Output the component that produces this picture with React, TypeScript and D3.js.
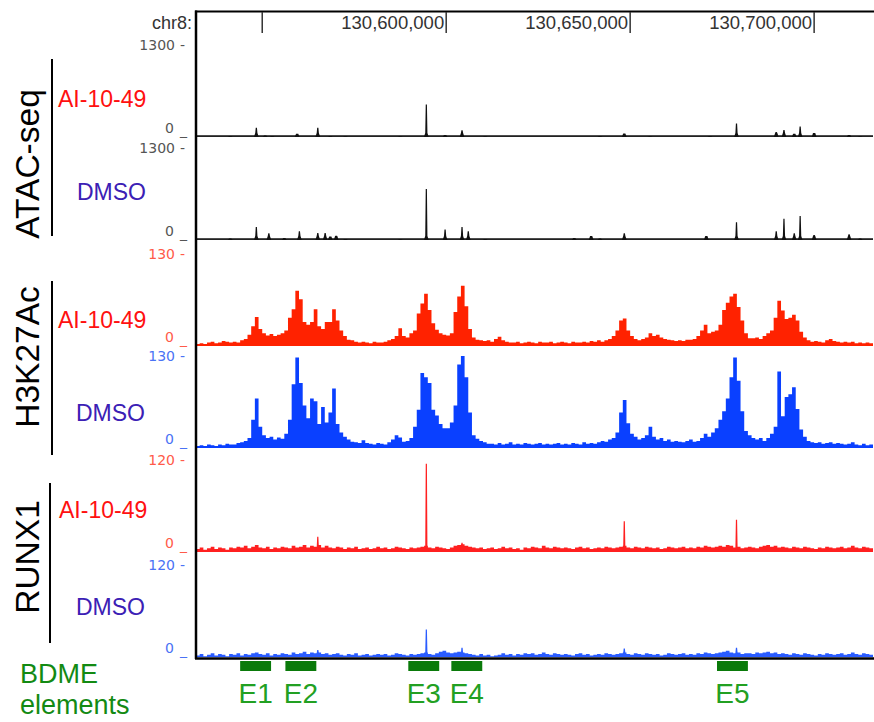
import { useEffect, useRef } from 'react';
import * as d3 from 'd3';

// region shown (chr8) and 1 kb bins for the dense tracks
const chrom = 'chr8:';
const regionStart = 130532000;
const regionEnd = 130716000;
const binSize = 1000;
const rulerTicks = [130550000, 130600000, 130650000, 130700000];

// ATAC-seq: [position, signal]
const atacAiSpikes: [number, number][] = [
  [130541300, 15], [130548400, 130], [130550800, 20], [130552700, 15], [130559500, 45],
  [130565100, 130], [130568500, 15], [130572600, 12], [130587500, 10], [130594600, 460],
  [130599700, 30], [130604300, 95], [130610600, 12], [130641800, 15], [130648400, 50],
  [130655400, 10], [130671700, 15], [130678900, 190], [130689700, 70], [130691800, 100],
  [130694600, 45], [130696200, 150], [130700000, 55], [130709500, 30], [130712500, 12],
];
const atacDmsoSpikes: [number, number][] = [
  [130541300, 20], [130548400, 185], [130551800, 95], [130556000, 30], [130560100, 125],
  [130565100, 100], [130567100, 100], [130568500, 50], [130570100, 60], [130572600, 15],
  [130587500, 12], [130594600, 720], [130599700, 150], [130604300, 185], [130606000, 125],
  [130610600, 15], [130634800, 30], [130639400, 55], [130641800, 20], [130648400, 95],
  [130670700, 55], [130678900, 250], [130689700, 125], [130691800, 300], [130694600, 95],
  [130696200, 340], [130700000, 70], [130709500, 80], [130712500, 20],
];

// H3K27Ac, 1 kb bins from regionStart
const h3k27acAi = [
  3, 4, 3, 5, 6, 4, 5, 7, 6, 5,
  6, 5, 8, 10, 16, 28, 41, 24, 18, 15,
  17, 14, 16, 18, 22, 40, 52, 78, 66, 34,
  30, 34, 52, 28, 24, 34, 34, 52, 36, 22,
  14, 9, 8, 6, 5, 6, 5, 4, 6, 5,
  5, 6, 8, 10, 14, 25, 14, 12, 18, 22,
  46, 60, 74, 51, 32, 23, 18, 16, 15, 18,
  48, 70, 85, 56, 24, 12, 9, 8, 7, 8,
  6, 10, 13, 8, 6, 5, 5, 6, 4, 5,
  6, 5, 4, 6, 5, 5, 6, 4, 5, 6,
  5, 4, 6, 5, 5, 6, 5, 7, 6, 8,
  6, 8, 10, 14, 22, 36, 39, 22, 14, 10,
  8, 10, 12, 18, 14, 16, 12, 10, 9, 8,
  7, 8, 7, 9, 9, 10, 14, 22, 30, 18,
  20, 22, 30, 51, 61, 70, 74, 55, 36, 18,
  11, 11, 12, 10, 14, 18, 22, 40, 64, 50,
  38, 40, 44, 36, 20, 12, 8, 6, 7, 6,
  5, 8, 10, 7, 6, 5, 6, 5, 6, 4,
  5, 4, 5, 4,
];
const h3k27acDmso = [
  3, 4, 3, 5, 4, 3, 5, 4, 6, 5,
  5, 7, 8, 10, 14, 40, 70, 30, 18, 14,
  16, 12, 15, 13, 20, 40, 90, 128, 92, 60,
  42, 70, 66, 34, 58, 36, 50, 84, 34, 22,
  16, 12, 9, 8, 7, 11, 7, 6, 5, 7,
  6, 5, 8, 12, 18, 15, 9, 10, 14, 30,
  54, 106, 100, 92, 54, 46, 34, 28, 28, 36,
  60, 118, 130, 100, 50, 18, 13, 10, 8, 6,
  6, 5, 7, 5, 6, 8, 5, 6, 5, 7,
  6, 5, 6, 7, 5, 6, 5, 6, 7, 5,
  6, 5, 7, 6, 5, 8, 6, 7, 6, 8,
  10, 9, 12, 14, 22, 50, 68, 35, 20, 16,
  12, 14, 18, 30, 16, 12, 14, 10, 12, 9,
  10, 9, 8, 10, 12, 9, 10, 14, 20, 16,
  22, 28, 40, 52, 70, 100, 128, 95, 52, 24,
  18, 14, 12, 14, 10, 14, 20, 30, 108, 45,
  72, 76, 86, 55, 26, 16, 10, 8, 7, 8,
  6, 7, 8, 6, 7, 6, 5, 6, 8, 5,
  4, 6, 4, 5,
];

// RUNX1 background, 1 kb bins, plus peaks
const runx1AiBins = [
  4, 6, 3, 5, 7, 4, 6, 5, 3, 6,
  5, 7, 6, 8, 5, 7, 9, 6, 5, 7,
  4, 6, 5, 7, 6, 5, 8, 6, 7, 9,
  6, 8, 7, 9, 6, 8, 6, 5, 7, 6,
  4, 6, 5, 7, 4, 5, 6, 4, 5, 7,
  5, 6, 4, 5, 7, 6, 5, 4, 6, 5,
  6, 7, 8, 6, 5, 7, 6, 5, 4, 6,
  8, 9, 10, 8, 7, 6, 5, 6, 4, 5,
  6, 4, 5, 7, 5, 6, 4, 5, 3, 6,
  5, 7, 6, 5, 8, 6, 5, 7, 6, 5,
  6, 5, 4, 6, 7, 5, 6, 4, 5, 6,
  5, 7, 6, 5, 6, 7, 8, 6, 5, 7,
  6, 5, 7, 6, 5, 6, 4, 5, 7, 6,
  5, 6, 7, 5, 6, 5, 7, 6, 8, 7,
  6, 7, 8, 7, 9, 8, 6, 7, 5, 6,
  7, 6, 5, 7, 8, 9, 7, 8, 6, 7,
  6, 5, 7, 6, 5, 7, 6, 5, 4, 6,
  5, 7, 6, 5, 6, 7, 5, 6, 8, 6,
  5, 7, 6, 5,
];
const runx1DmsoBins = [
  2, 4, 1, 3, 5, 2, 4, 3, 1, 4,
  3, 5, 2, 4, 3, 5, 6, 4, 3, 5,
  2, 4, 3, 5, 4, 3, 6, 4, 5, 7,
  4, 6, 5, 6, 4, 5, 3, 4, 5, 3,
  2, 4, 3, 5, 2, 3, 4, 2, 3, 4,
  3, 4, 2, 3, 5, 4, 3, 2, 4, 3,
  4, 5, 6, 4, 3, 5, 7, 8, 6, 5,
  6, 7, 6, 5, 4, 3, 2, 4, 2, 3,
  1, 2, 3, 5, 3, 4, 2, 4, 3, 5,
  4, 5, 3, 4, 6, 4, 3, 5, 4, 3,
  4, 3, 2, 4, 5, 3, 4, 2, 3, 4,
  3, 5, 4, 3, 4, 5, 6, 4, 3, 5,
  4, 3, 5, 4, 3, 4, 2, 3, 5, 4,
  3, 4, 5, 3, 4, 3, 5, 4, 6, 5,
  4, 5, 6, 7, 8, 6, 5, 6, 4, 5,
  5, 4, 6, 5, 6, 7, 5, 6, 4, 5,
  4, 3, 5, 4, 3, 5, 4, 3, 2, 4,
  3, 5, 4, 3, 4, 5, 3, 4, 6, 4,
  3, 5, 4, 3,
];
const runx1AiSpikes: [number, number][] = [
  [130565100, 20], [130594600, 115], [130604300, 12], [130648400, 40], [130678900, 42],
];
const runx1DmsoSpikes: [number, number][] = [
  [130565100, 9], [130594600, 36], [130604300, 12], [130648400, 11], [130678900, 12],
];

// BDME enhancer elements
const bdmeNames = ['E1', 'E2', 'E3', 'E4', 'E5'];
const bdmeStarts = [130544000, 130556300, 130589700, 130601400, 130673600];
const bdmeEnds = [130552400, 130564700, 130598100, 130609800, 130682000];

type Track = {
  sample: string;
  max: number;
  baseline: number;
  color: string;
  axisColor: string;
  labelX: number;
  labelY: number;
  bins?: number[];
  spikes: [number, number][];
};

const tracks: Track[] = [
  { sample: 'AI-10-49', max: 1300, baseline: 137, color: '#111', axisColor: '#555', labelX: 58, labelY: 107, spikes: atacAiSpikes },
  { sample: 'DMSO', max: 1300, baseline: 240, color: '#111', axisColor: '#555', labelX: 77, labelY: 200, spikes: atacDmsoSpikes },
  { sample: 'AI-10-49', max: 130, baseline: 346, color: '#ff2200', axisColor: '#ff5a4a', labelX: 58, labelY: 328, bins: h3k27acAi, spikes: [] },
  { sample: 'DMSO', max: 130, baseline: 448, color: '#0a40ff', axisColor: '#4a72f5', labelX: 76, labelY: 421, bins: h3k27acDmso, spikes: [] },
  { sample: 'AI-10-49', max: 120, baseline: 552, color: '#ff2020', axisColor: '#ff5a4a', labelX: 59, labelY: 518, bins: runx1AiBins, spikes: runx1AiSpikes },
  { sample: 'DMSO', max: 120, baseline: 657, color: '#2a5cff', axisColor: '#4a72f5', labelX: 76, labelY: 615, bins: runx1DmsoBins, spikes: runx1DmsoSpikes },
];

const groups = [
  { name: 'ATAC-seq', cy: 164, lineX: 52, y1: 59, y2: 236 },
  { name: 'H3K27Ac', cy: 357, lineX: 52, y1: 281, y2: 455 },
  { name: 'RUNX1', cy: 557, lineX: 50, y1: 483, y2: 643 },
];

const W = 874;
const H = 722;
const trackHeight = 92;
const sansFont = "'Liberation Sans', Arial, sans-serif";
const axisFont = "'DejaVu Sans', sans-serif";

export default function App() {
  const svgRef = useRef<SVGSVGElement>(null);

  useEffect(() => {
    if (!svgRef.current) return;
    const svg = d3.select(svgRef.current);
    svg.selectAll('*').remove();

    const x = d3.scaleLinear().domain([regionStart, regionEnd]).range([196, 873]);

    svg.append('rect').attr('width', W).attr('height', H).attr('fill', '#fff');

    tracks.forEach(t => {
      const y = d3.scaleLinear().domain([0, t.max]).range([t.baseline, t.baseline - trackHeight]).clamp(true);
      const g = svg.append('g');

      if (t.bins) {
        const pts = t.bins.map((v, i) => [regionStart + i * binSize, v] as [number, number]);
        pts.push([regionStart + t.bins.length * binSize, t.bins[t.bins.length - 1]]);
        const area = d3.area<[number, number]>()
          .x(d => x(d[0]))
          .y0(t.baseline)
          .y1(d => y(d[1]))
          .curve(d3.curveStepAfter);
        g.append('path').attr('d', area(pts) || '').attr('fill', t.color);
      } else {
        // flat background line of the ATAC tracks
        g.append('rect')
          .attr('x', x(regionStart)).attr('width', x(regionEnd) - x(regionStart))
          .attr('y', t.baseline - 1.8).attr('height', 1.8)
          .attr('fill', '#222');
      }

      const spike = d3.line<[number, number]>();
      g.selectAll('path.spike')
        .data(t.spikes)
        .enter()
        .append('path')
        .attr('class', 'spike')
        .attr('fill', t.color)
        .attr('d', d => {
          const cx = x(d[0]);
          const top = y(d[1]);
          const h = t.baseline - top;
          return spike([
            [cx - 2.4, t.baseline],
            [cx - 1.1, t.baseline - Math.min(h, 4)],
            [cx - 0.6, top],
            [cx + 0.6, top],
            [cx + 1.1, t.baseline - Math.min(h, 4)],
            [cx + 2.4, t.baseline],
          ]) + 'Z';
        });

      // value range labels: number, then a dash/underscore mark
      const axisText = (xx: number, yy: number, s: string, anchor: string) =>
        g.append('text')
          .attr('x', xx).attr('y', yy)
          .attr('text-anchor', anchor)
          .attr('font-family', axisFont).attr('font-size', 14)
          .attr('fill', t.axisColor)
          .text(s);
      axisText(175, y(t.max) + 5, `${t.max}`, 'end');
      axisText(180, y(t.max) + 5, '-', 'start');
      axisText(174, t.baseline - 4, '0', 'end');
      axisText(180, t.baseline - 2, '_', 'start');

      g.append('text')
        .attr('x', t.labelX).attr('y', t.labelY)
        .attr('font-family', sansFont).attr('font-size', 23)
        .attr('fill', t.sample === 'DMSO' ? '#3b20b5' : '#ff1010')
        .text(t.sample);
    });

    groups.forEach(gr => {
      svg.append('text')
        .attr('transform', `translate(39,${gr.cy}) rotate(-90)`)
        .attr('text-anchor', 'middle')
        .attr('font-family', sansFont).attr('font-size', 33.5)
        .attr('fill', '#000')
        .text(gr.name);
      svg.append('line')
        .attr('x1', gr.lineX).attr('x2', gr.lineX)
        .attr('y1', gr.y1).attr('y2', gr.y2)
        .attr('stroke', '#000').attr('stroke-width', 2);
    });

    // frame and ruler
    svg.append('line').attr('x1', 195).attr('x2', W).attr('y1', 11.5).attr('y2', 11.5)
      .attr('stroke', '#000').attr('stroke-width', 2);
    svg.append('line').attr('x1', 196).attr('x2', 196).attr('y1', 10.5).attr('y2', 659)
      .attr('stroke', '#000').attr('stroke-width', 2.5);
    svg.append('line').attr('x1', 195).attr('x2', W).attr('y1', 658.5).attr('y2', 658.5)
      .attr('stroke', '#000').attr('stroke-width', 2.5);

    svg.append('text')
      .attr('x', 192).attr('y', 29)
      .attr('text-anchor', 'end')
      .attr('font-family', sansFont).attr('font-size', 18)
      .attr('fill', '#333')
      .text(chrom);

    const ruler = svg.append('g');
    rulerTicks.forEach((tk, i) => {
      ruler.append('line')
        .attr('x1', x(tk)).attr('x2', x(tk))
        .attr('y1', 12).attr('y2', 33)
        .attr('stroke', '#333').attr('stroke-width', 1.5);
      if (i > 0) {
        ruler.append('text')
          .attr('x', x(tk) - 2).attr('y', 29)
          .attr('text-anchor', 'end')
          .attr('font-family', sansFont).attr('font-size', 18.5)
          .attr('fill', '#333')
          .text(d3.format(',')(tk));
      }
    });

    // BDME elements
    const elems = svg.append('g');
    bdmeNames.forEach((name, i) => {
      const x0 = x(bdmeStarts[i]);
      const x1 = x(bdmeEnds[i]);
      elems.append('rect')
        .attr('x', x0).attr('y', 661)
        .attr('width', x1 - x0).attr('height', 10)
        .attr('fill', '#0a7a0a');
      elems.append('text')
        .attr('x', (x0 + x1) / 2).attr('y', 703)
        .attr('text-anchor', 'middle')
        .attr('font-family', sansFont).attr('font-size', 28)
        .attr('fill', '#22a022')
        .text(name);
    });

    svg.append('text')
      .attr('x', 20).attr('y', 683)
      .attr('font-family', sansFont).attr('font-size', 27)
      .attr('fill', '#138a13')
      .text('BDME');
    svg.append('text')
      .attr('x', 20).attr('y', 714)
      .attr('font-family', sansFont).attr('font-size', 27)
      .attr('fill', '#138a13')
      .text('elements');
  }, []);

  return (
    <svg
      ref={svgRef}
      width={W}
      height={H}
      style={{ position: 'absolute', left: 0, top: 0, display: 'block' }}
    />
  );
}
